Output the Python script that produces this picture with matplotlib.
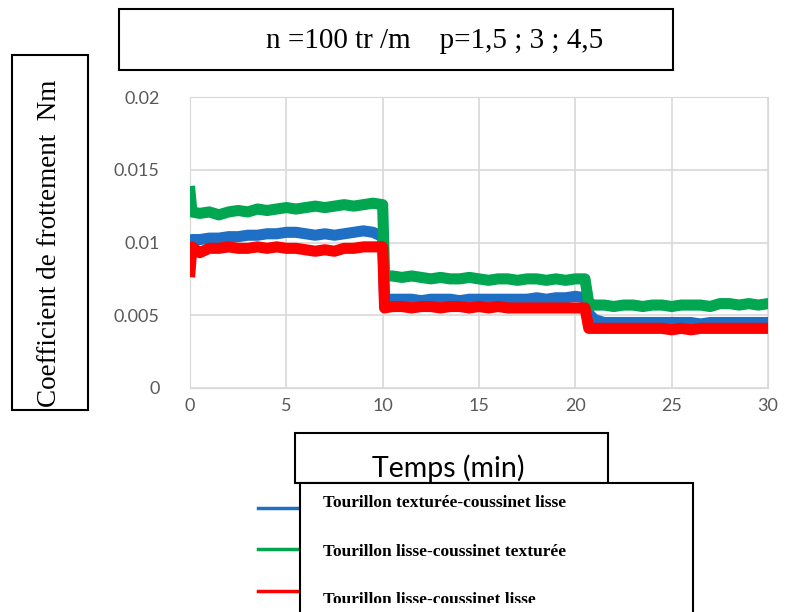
import matplotlib
matplotlib.use("Agg")
import matplotlib.pyplot as plt
from matplotlib.patches import Rectangle
from matplotlib.lines import Line2D
from matplotlib.transforms import Bbox, TransformedBbox

# Temps (min) and friction torque for the three bearing pairs
temps = [0, 0.1, 0.5, 1.0, 1.5, 2.0, 2.5, 3.0, 3.5, 4.0, 4.5, 5.0, 5.5, 6.0, 6.5, 7.0,
         7.5, 8.0, 8.5, 9.0, 9.5, 10.0,
         10.1,
         10.5, 11.0, 11.5, 12.0, 12.5, 13.0, 13.5, 14.0, 14.5, 15.0, 15.5, 16.0, 16.5,
         17.0, 17.5, 18.0, 18.5, 19.0, 19.5, 20.0, 20.5,
         20.7,
         21.0, 21.5, 22.0, 22.5, 23.0, 23.5, 24.0, 24.5, 25.0, 25.5, 26.0, 26.5, 27.0,
         27.5, 28.0, 28.5, 29.0, 29.5, 30.0]

texturee_lisse = [0.0095, 0.0102, 0.0102, 0.0103, 0.0103, 0.0104, 0.0104, 0.0105, 0.0105,
                  0.0106, 0.0106, 0.0107, 0.0107, 0.0106, 0.0105, 0.0106, 0.0105, 0.0106,
                  0.0107, 0.0108, 0.0107, 0.0104,
                  0.0061,
                  0.0061, 0.0061, 0.0061, 0.0060, 0.0061, 0.0061, 0.0061, 0.0060, 0.0061,
                  0.0061, 0.0061, 0.0061, 0.0061, 0.0061, 0.0061, 0.0062, 0.0061, 0.0062,
                  0.0062, 0.0063, 0.0062,
                  0.0051,
                  0.0047, 0.0045, 0.0045, 0.0045, 0.0045, 0.0045, 0.0045, 0.0045, 0.0045,
                  0.0045, 0.0045, 0.0044, 0.0045, 0.0045, 0.0045, 0.0045, 0.0045, 0.0045,
                  0.0045]

lisse_texturee = [0.0135, 0.0121, 0.0120, 0.0121, 0.0119, 0.0121, 0.0122, 0.0121, 0.0123,
                  0.0122, 0.0123, 0.0124, 0.0123, 0.0124, 0.0125, 0.0124, 0.0125, 0.0126,
                  0.0125, 0.0126, 0.0127, 0.0126,
                  0.0077,
                  0.0077, 0.0076, 0.0077, 0.0076, 0.0075, 0.0076, 0.0075, 0.0075, 0.0076,
                  0.0075, 0.0074, 0.0075, 0.0075, 0.0074, 0.0075, 0.0075, 0.0074, 0.0075,
                  0.0074, 0.0075, 0.0075,
                  0.0058,
                  0.0057, 0.0057, 0.0056, 0.0057, 0.0057, 0.0056, 0.0057, 0.0057, 0.0056,
                  0.0057, 0.0057, 0.0057, 0.0056, 0.0058, 0.0058, 0.0057, 0.0058, 0.0057,
                  0.0058]

lisse_lisse = [0.0080, 0.0097, 0.0093, 0.0096, 0.0096, 0.0097, 0.0096, 0.0096, 0.0097,
               0.0096, 0.0097, 0.0096, 0.0096, 0.0095, 0.0094, 0.0095, 0.0094, 0.0096,
               0.0096, 0.0097, 0.0097, 0.0097,
               0.0055,
               0.0056, 0.0056, 0.0055, 0.0056, 0.0056, 0.0055, 0.0056, 0.0056, 0.0055,
               0.0056, 0.0055, 0.0056, 0.0055, 0.0055, 0.0055, 0.0055, 0.0055, 0.0055,
               0.0055, 0.0055, 0.0055,
               0.0041,
               0.0041, 0.0041, 0.0041, 0.0041, 0.0041, 0.0041, 0.0041, 0.0041, 0.0040,
               0.0041, 0.0040, 0.0041, 0.0041, 0.0041, 0.0041, 0.0041, 0.0041, 0.0041,
               0.0041]

series_names = ["Tourillon texturée-coussinet lisse",
                "Tourillon lisse-coussinet texturée",
                "Tourillon lisse-coussinet lisse"]
series_colors = ["#1F6FC5", "#00A650", "#FF0000"]

x_ticks = [0, 5, 10, 15, 20, 25, 30]
y_ticks = [0, 0.005, 0.01, 0.015, 0.02]
y_tick_labels = ["0", "0.005", "0.01", "0.015", "0.02"]

W, H = 787, 612
fig = plt.figure(figsize=(W / 100, H / 100), dpi=100)


def fx(px):
    return px / W


def fy(py):
    return 1 - py / H


ax = fig.add_axes([fx(190), fy(388), fx(768) - fx(190), fy(97) - fy(388)])
for ys, c in zip([texturee_lisse, lisse_texturee, lisse_lisse], series_colors):
    ax.plot(temps, ys, color=c, lw=8, solid_joinstyle="round", zorder=3)

ax.set_xlim(0, 30)
ax.set_ylim(0, 0.02)
ax.set_xticks(x_ticks)
ax.set_yticks(y_ticks)
ax.set_yticklabels(y_tick_labels)
ax.grid(True, color="#D9D9D9", lw=1.2)
for s in ax.spines.values():
    s.set_color("#D9D9D9")
ax.tick_params(length=0, labelcolor="#595959", labelsize=13)
ax.tick_params(axis="y", pad=22)
ax.tick_params(axis="x", pad=7)
for lab in ax.get_xticklabels() + ax.get_yticklabels():
    lab.set_family("Lato")

# framed title
fig.patches.append(Rectangle((fx(119), fy(70)), fx(673) - fx(119), fy(9) - fy(70),
                             transform=fig.transFigure, fill=False, ec="black", lw=1.5))
fig.text(fx(266), fy(41), "n =100 tr /m    p=1,5 ; 3 ; 4,5", family="Liberation Serif",
         fontsize=21, ha="left", va="center")

# framed y label
fig.patches.append(Rectangle((fx(12), fy(410)), fx(88) - fx(12), fy(55) - fy(410),
                             transform=fig.transFigure, fill=False, ec="black", lw=1.5))
fig.text(fx(50), fy(243), "Coefficient de frottement  Nm", family="Liberation Serif",
         fontsize=19.5, rotation=90, ha="center", va="center")

# framed x label
fig.patches.append(Rectangle((fx(295), fy(483)), fx(608) - fx(295), fy(433) - fy(483),
                             transform=fig.transFigure, fc="white", ec="black", lw=1.5,
                             zorder=1))
fig.text(fx(448), fy(468), "Temps (min)", family="Lato", fontsize=20.5,
         ha="center", va="center", zorder=2)

# legend: colour samples partly hidden behind the framed box
for c, ly in zip(series_colors, [508, 549, 591]):
    fig.lines.append(Line2D([fx(258), fx(320)], [fy(ly), fy(ly)], transform=fig.transFigure,
                            color=c, lw=2.5, zorder=3))
fig.patches.append(Rectangle((fx(300), fy(615)), fx(693) - fx(300), fy(483) - fy(615),
                             transform=fig.transFigure, fc="white", ec="black", lw=1.5,
                             zorder=4))
clip = TransformedBbox(Bbox([[fx(301), fy(603)], [fx(692), fy(484)]]), fig.transFigure)
for name, ty in zip(series_names, [503, 552, 600]):
    t = fig.text(fx(323), fy(ty), name, family="Liberation Serif", weight="bold",
                 fontsize=12.5, ha="left", va="center", zorder=5)
    t.set_clip_box(clip)
    t.set_clip_on(True)

fig.savefig("out.png", dpi=100)
